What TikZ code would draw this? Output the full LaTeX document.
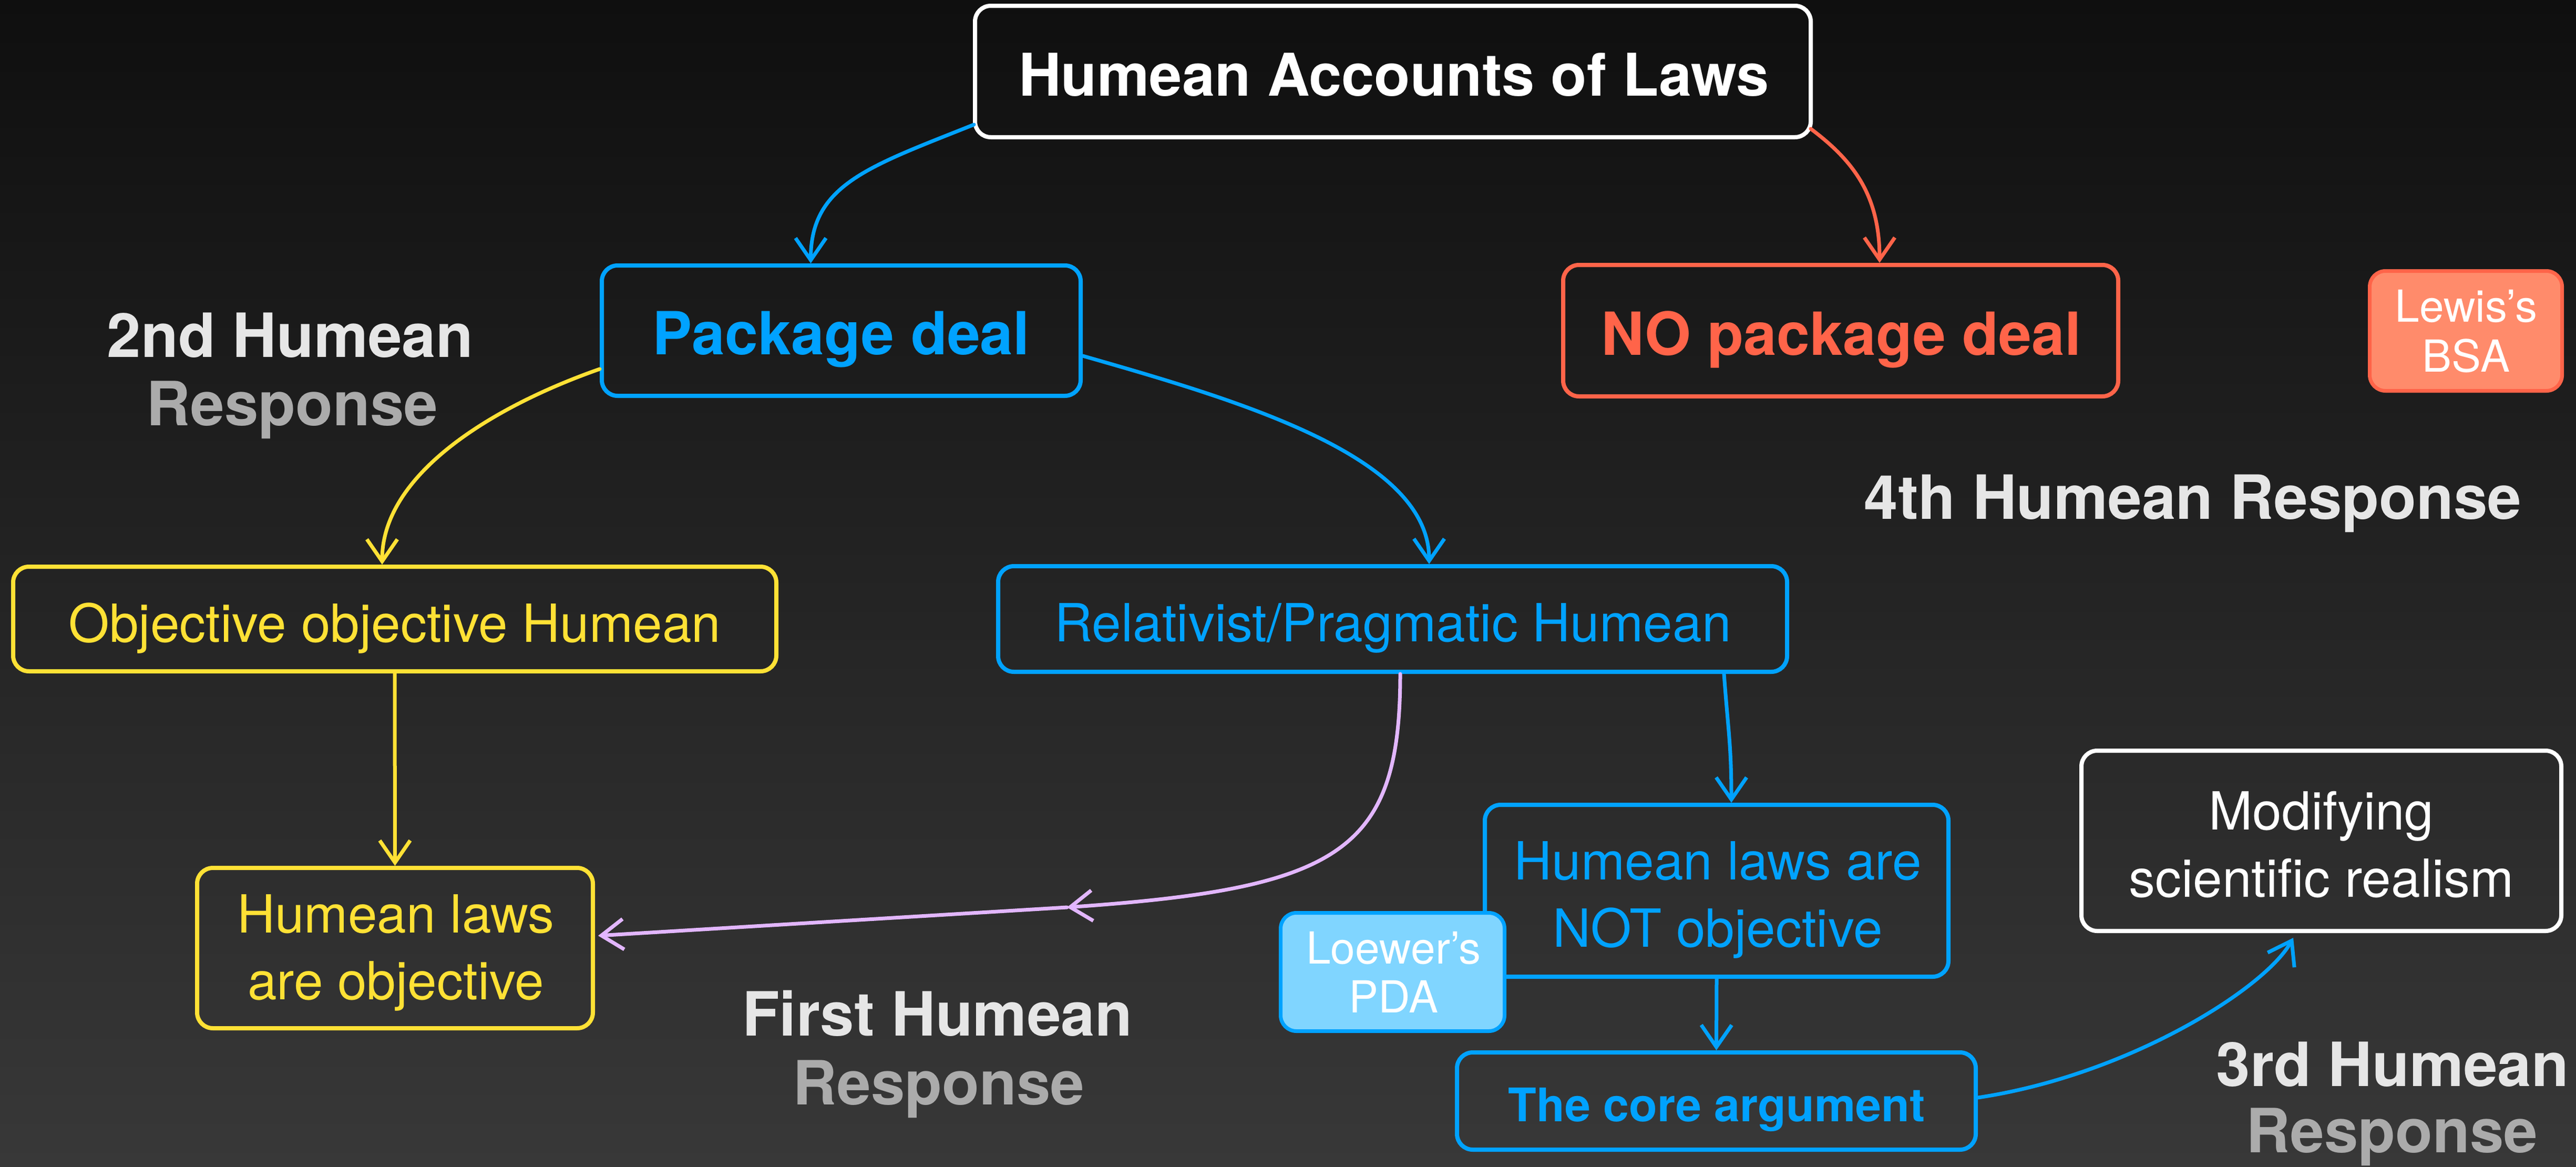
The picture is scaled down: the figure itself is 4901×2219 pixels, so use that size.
\documentclass[tikz,border=0pt]{standalone}
\usepackage{fontspec}
\setmainfont{TeX Gyre Heros}
\usetikzlibrary{arrows.meta,calc}
\definecolor{bgtop}{HTML}{0F0F0F}
\definecolor{bgbot}{HTML}{383838}
\definecolor{cblue}{HTML}{00A2FF}
\definecolor{cred}{HTML}{FF6449}
\definecolor{cyel}{HTML}{FFE135}
\definecolor{cpurp}{HTML}{E2B6FF}
\definecolor{cpda}{HTML}{80D5FF}
\definecolor{clewis}{HTML}{FF8B6B}
\definecolor{labA}{HTML}{E6E6E6}
\definecolor{labB}{HTML}{ABABAB}
\tikzset{
  box/.style={draw=#1, line width=8pt, rounded corners=30pt, inner sep=0pt},
  fbox/.style 2 args={draw=#1, fill=#2, line width=7pt, rounded corners=30pt, inner sep=0pt},
  conn/.style={draw=#1, line width=7pt, line cap=round,
    -{Straight Barb[length=42pt,width=58pt]}},
  txt/.style={anchor=base, inner sep=0pt, text=#1},
  fbig/.style={font=\bfseries\fontsize{112}{134}\selectfont},
  fbold/.style={font=\bfseries\fontsize{113}{134}\selectfont},
  flab/.style={font=\bfseries\fontsize{116}{134}\selectfont},
  freg/.style={font=\fontsize{100}{128}\selectfont},
  fcore/.style={font=\bfseries\fontsize{88}{110}\selectfont},
  fsmall/.style={font=\fontsize{84}{95}\selectfont},
}
\begin{document}
\begin{tikzpicture}[x=1pt,y=-1pt]
\useasboundingbox (0,0) rectangle (4901,2219);
\shade[top color=bgtop, bottom color=bgbot] (0,0) rectangle (4901,2219);

% boxes
\node[box=white, minimum width=1590pt, minimum height=250pt] (title) at (2650,136) {};
\node[box=cblue, minimum width=911pt, minimum height=248pt] (pkg) at (1600.5,629) {};
\node[box=cred, minimum width=1056pt, minimum height=250pt] (nopkg) at (3502,629) {};
\node[fbox={cred}{clewis}, minimum width=366pt, minimum height=228pt] (lewis) at (4691.5,629.5) {};
\node[box=cyel, minimum width=1452pt, minimum height=199pt] (objobj) at (751,1177.5) {};
\node[box=cblue, minimum width=1501pt, minimum height=201pt] (rel) at (2649.5,1177.5) {};
\node[box=cyel, minimum width=753pt, minimum height=305pt] (lawsobj) at (751.5,1803.5) {};
\node[box=cblue, minimum width=882pt, minimum height=327pt] (notobj) at (3266,1694.5) {};
\node[fbox={cblue}{cpda}, minimum width=426pt, minimum height=225pt] (pda) at (2649.5,1849) {};
\node[box=cblue, minimum width=987pt, minimum height=185pt] (core) at (3265.5,2094.5) {};
\node[box=white, minimum width=913pt, minimum height=343pt] (modif) at (4416.5,1599.5) {};

% box texts
\node[txt=white, fbig] (titleT) at (2652,182) {Humean Accounts of Laws};
\node[txt=cblue, fbold] (pkgT) at (1600.5,674) {Package deal};
\node[txt=cred, fbold] (nopkgT) at (3503,675) {NO package deal};
\node[txt=white, fsmall] (lewisA) at (4692,612) {Lewis’s};
\node[txt=white, fsmall] (lewisB) at (4692,707) {BSA};
\node[txt=cyel, freg] (objobjT) at (751,1221) {Objective objective Humean};
\node[txt=cblue, freg] (relT) at (2650,1220) {Relativist/Pragmatic Humean};
\node[txt=cyel, freg] (lawsA) at (753,1774) {Humean laws};
\node[txt=cyel, freg] (lawsB) at (753,1901) {are objective};
\node[txt=cblue, freg] (notA) at (3268,1673) {Humean laws are};
\node[txt=cblue, freg] (notB) at (3268,1801) {NOT objective};
\node[txt=white, fsmall] (pdaA) at (2651.5,1833) {Loewer’s};
\node[txt=white, fsmall] (pdaB) at (2651.5,1926) {PDA};
\node[txt=cblue, fcore] (coreT) at (3266,2133) {The core argument};
\node[txt=white, freg] (modifA) at (4416.5,1578) {Modifying};
\node[txt=white, freg] (modifB) at (4416.5,1706) {scientific realism};

% free labels
\node[txt=labA, flab] (secA) at (552,679) {2nd Humean};
\node[txt=labB, flab] (secB) at (556,809) {Response};
\node[txt=labA, flab] (fourth) at (4172,987) {4th Humean Response};
\node[txt=labA, flab] (firstA) at (1783,1970) {First Humean};
\node[txt=labB, flab] (firstB) at (1786,2101) {Response};
\node[txt=labA, flab] (thirdA) at (4552,2066) {3rd Humean};
\node[txt=labB, flab] (thirdB) at (4551,2192) {Response};

% connectors
\draw[conn=cblue] ($(title.south west)+(2,-28)$) .. controls +(-200,80) and +(0,-150) .. ($(pkg.north)+(-58,0)$);
\draw[conn=cred] ($(title.south east)+(-4,-20)$) .. controls +(80,60) and +(0,-130) .. ($(nopkg.north)+(74,0)$);
\draw[conn=cyel] ($(pkg.west)+(0,73)$) .. controls +(-200,70) and +(0,-174) .. ($(objobj.north)+(-24,0)$);
\draw[conn=cblue] ($(pkg.east)+(0,48)$) .. controls +(290,83) and +(0,-207) .. ($(rel.north)+(69.5,0)$);
\draw[conn=cyel] (objobj.south) -- (lawsobj.north);
\coordinate (pmid) at (2030,1726);
\draw[conn=cpurp] ($(rel.south)+(14.5,0)$) .. controls +(0,338) and +(520,-36) .. (pmid);
\draw[conn=cpurp] (pmid) -- ($(lawsobj.east)+(6,-23.5)$);
\draw[conn=cblue] ($(rel.south)+(630.5,0)$) .. controls +(8,110) and +(0,-110) .. ($(notobj.north)+(28,0)$);
\draw[conn=cblue] (notobj.south) -- (core.north);
\draw[conn=cblue] ($(core.east)+(0,-6.5)$) .. controls +(287,-43) and +(-53,96) .. ($(modif.south)+(-53.5,9)$);
\end{tikzpicture}
\end{document}
